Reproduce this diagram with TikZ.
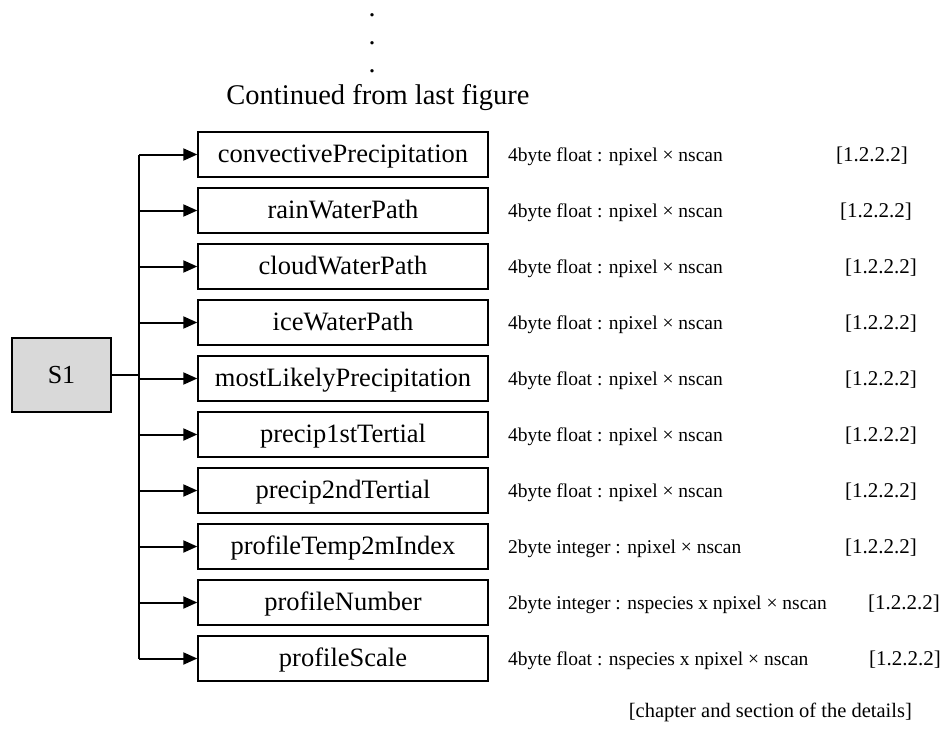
\documentclass[tikz,border=0pt]{standalone}
\usepackage{fontspec}
\setmainfont{Liberation Serif}
\usetikzlibrary{arrows.meta}
\begin{document}
\begin{tikzpicture}[x=1pt,y=-1pt,
  fieldbox/.style={draw, line width=1.4pt, minimum width=290pt, minimum height=45pt, inner sep=0pt, text height=18pt, text depth=2pt, font=\fontsize{26.5}{30}\selectfont},
  rootbox/.style={draw, line width=1.4pt, fill=black!15, minimum width=99pt, minimum height=74pt, font=\fontsize{26}{30}\selectfont},
  desc/.style={anchor=base west, inner sep=0pt, font=\fontsize{19.5}{24}\selectfont},
  reftext/.style={anchor=base west, inner sep=0pt, font=\fontsize{21}{25}\selectfont},
  dotmark/.style={anchor=base, inner sep=0pt, text height=4pt, text depth=0pt, font=\fontsize{28}{30}\selectfont},
  conn/.style={line width=2pt},
  arr/.style={conn, -{Triangle[length=14pt,width=12pt]}},
]
\useasboundingbox (0,0) rectangle (952,731);

% continuation dots and title
\node[dotmark] (d1) at (372,16) {.};
\node[dotmark] (d2) at (372,44) {.};
\node[dotmark] (d3) at (372,72) {.};
\node[anchor=base, inner sep=0pt, font=\fontsize{28.5}{32}\selectfont] (title) at (378,104) {Continued from last figure};

% root
\node[rootbox] (s1) at (61.5,375) {S1};
\coordinate (j) at (139,375);
\coordinate (top) at (139,154.5);
\coordinate (bot) at (139,658.5);
\draw[conn] (s1.east) -- (j);
\draw[conn] (top) -- (bot);

\foreach \i/\name/\desc/\rx in {
  0/convectivePrecipitation/{4byte float : npixel × nscan}/836,
  1/rainWaterPath/{4byte float : npixel × nscan}/840,
  2/cloudWaterPath/{4byte float : npixel × nscan}/845,
  3/iceWaterPath/{4byte float : npixel × nscan}/845,
  4/mostLikelyPrecipitation/{4byte float : npixel × nscan}/845,
  5/precip1stTertial/{4byte float : npixel × nscan}/845,
  6/precip2ndTertial/{4byte float : npixel × nscan}/845,
  7/profileTemp2mIndex/{2byte integer : npixel × nscan}/845,
  8/profileNumber/{2byte integer : nspecies x npixel × nscan}/868,
  9/profileScale/{4byte float : nspecies x npixel × nscan}/869}{
  \pgfmathsetmacro{\yy}{154.5+56*\i}
  \node[fieldbox] (f\i) at (343,\yy) {\name};
  \coordinate (b\i) at (139,\yy);
  \draw[arr] (b\i) -- (f\i.west);
  \node[desc] (t\i) at (508,\yy+7) {\desc};
  \node[reftext] (r\i) at (\rx,\yy+7) {[1.2.2.2]};
}

\node[anchor=base east, inner sep=0pt, font=\fontsize{20.5}{26}\selectfont] (note) at (912,717) {[chapter and section of the details]};
\end{tikzpicture}
\end{document}
